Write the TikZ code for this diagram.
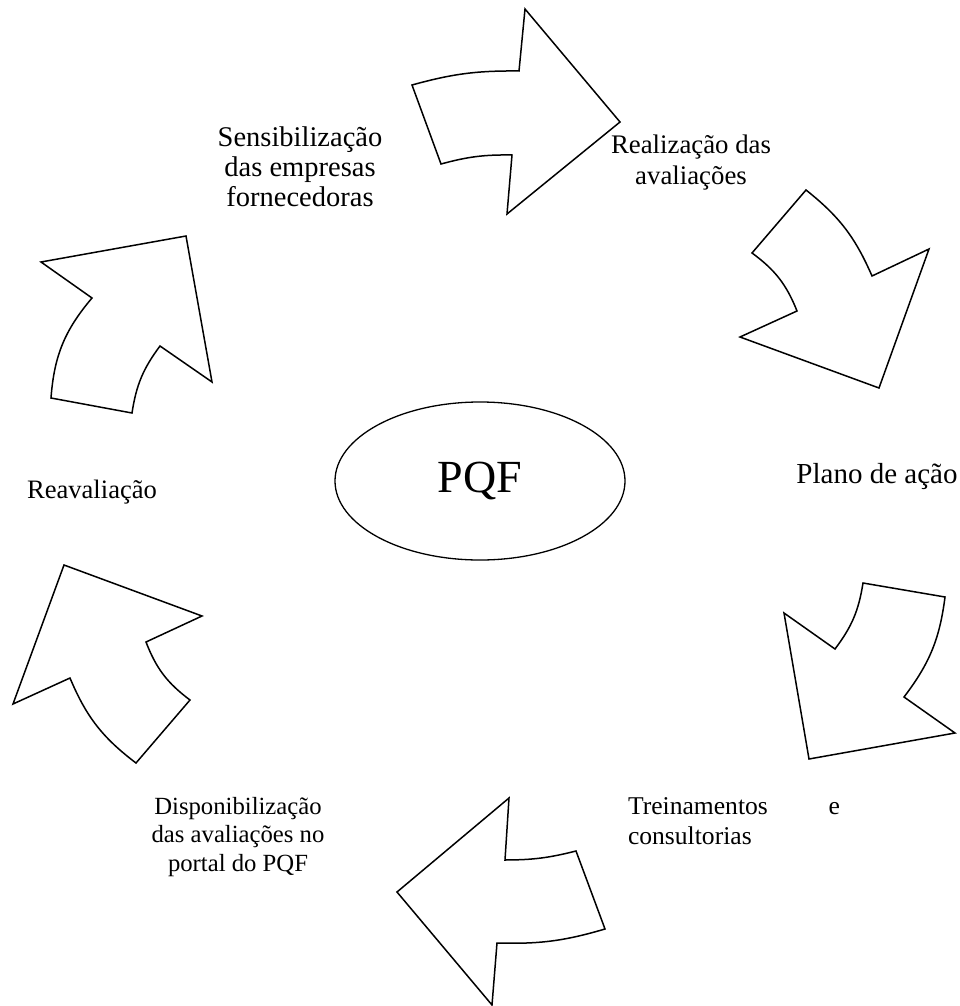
\documentclass[tikz,border=0pt]{standalone}
\usepackage{fontspec}
\setmainfont{Liberation Serif}
\usetikzlibrary{shapes.geometric}
\begin{document}
\begin{tikzpicture}[
        x=1pt, y=-1pt,
        seta/.style={draw, line width=1.5pt, line join=miter},
        rotulo/.style={align=center, inner sep=0pt},
        tam/.style={font=\fontsize{#1}{1.08*#1}\selectfont}
    ]
    \useasboundingbox (0,0) rectangle (960,1006);
    % setas do ciclo
    \draw[seta] (412,85) to[bend left=8] (519,71) -- (525,9) -- (620,122)
        -- (507,214) -- (512,155) to[bend right=8] (441,164) -- cycle;
    \draw[seta] (806,190) to[bend left=14] (872,276) -- (929,249) -- (879,388)
        -- (740,337) -- (797,311) to[bend right=16] (752,253) -- cycle;
    \draw[seta] (863,583) -- (945,597) to[bend left=15] (904,697) -- (955,733)
        -- (809,759) -- (784,613) -- (835,649) to[bend right=14] cycle;
    \draw[seta] (509,798) -- (397,892) -- (492,1005) -- (497,943)
        to[bend right=9] (605,929) -- (576,851) to[bend left=7] (505,860) -- cycle;
    \draw[seta] (64,565) -- (202,616) -- (146,642) to[bend right=16] (190,700)
        -- (136,763) to[bend left=15] (70,678) -- (13,704) -- cycle;
    \draw[seta] (41,262) -- (186,236) -- (212,382) -- (160,346)
        to[bend right=14] (132,413) -- (51,398) to[bend left=18] (92,298) -- cycle;
    % centro
    \node[ellipse, draw, line width=1.3pt, minimum width=290pt, minimum height=158pt,
        font=\fontsize{46}{50}\selectfont] (pqf) at (480,481) {PQF};
    % etapas
    \node[rotulo, font=\fontsize{28.5}{30}\selectfont] (sensib) at (300,167)
        {Sensibilização\\das empresas\\fornecedoras};
    \node[rotulo, font=\fontsize{26.8}{31}\selectfont] (realiz) at (691,163)
        {Realização das\\avaliações};
    \node[rotulo, font=\fontsize{29}{31}\selectfont] (plano) at (877,477) {Plano de ação};
    \node[rotulo, align=left, text width=212pt, font=\fontsize{25.6}{30}\selectfont]
        (trein) at (734,821) {Treinamentos\hfill e\\consultorias};
    \node[rotulo, font=\fontsize{24.7}{28.5}\selectfont] (dispon) at (238,837)
        {Disponibilização\\das avaliações no\\portal do PQF};
    \node[rotulo, font=\fontsize{26.6}{30}\selectfont] (reaval) at (92,492) {Reavaliação};
\end{tikzpicture}
\end{document}
